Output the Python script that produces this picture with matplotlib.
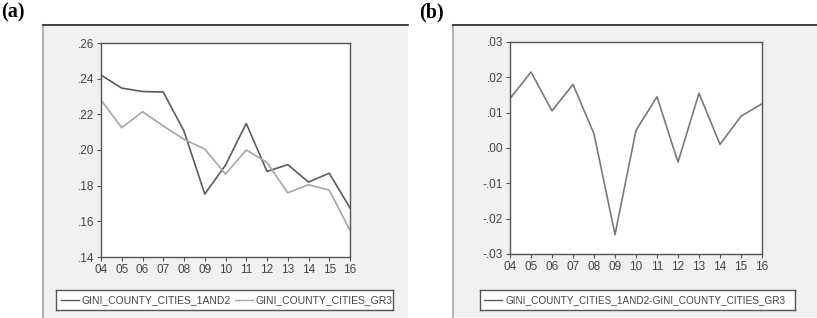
import matplotlib.pyplot as plt
from matplotlib.patches import Rectangle
from matplotlib.lines import Line2D

years = ["04", "05", "06", "07", "08", "09", "10", "11", "12", "13", "14", "15", "16"]
gini_1and2 = [0.242, 0.2347, 0.2328, 0.2325, 0.2106, 0.1753, 0.1915, 0.2149,
              0.1880, 0.1918, 0.1820, 0.1870, 0.1675]
gini_gr3 = [0.228, 0.2125, 0.2215, 0.2135, 0.2060, 0.2005, 0.1865, 0.2000,
            0.1930, 0.1760, 0.1805, 0.1775, 0.1550]
gini_diff = [0.014, 0.0215, 0.0105, 0.018, 0.004, -0.0245, 0.005, 0.0145,
             -0.004, 0.0155, 0.001, 0.009, 0.0125]

yticks_a = [0.14, 0.16, 0.18, 0.20, 0.22, 0.24, 0.26]
ylabels_a = [".14", ".16", ".18", ".20", ".22", ".24", ".26"]
yticks_b = [-0.03, -0.02, -0.01, 0.00, 0.01, 0.02, 0.03]
ylabels_b = ["-.03", "-.02", "-.01", ".00", ".01", ".02", ".03"]

label_a = "GINI_COUNTY_CITIES_1AND2"
label_b = "GINI_COUNTY_CITIES_GR3"
label_diff = "GINI_COUNTY_CITIES_1AND2-GINI_COUNTY_CITIES_GR3"

plt.rcParams["font.family"] = ["Liberation Sans", "DejaVu Sans"]

W, H = 817, 318
fig = plt.figure(figsize=(W / 100, H / 100), dpi=100)


def fx(px):
    return px / W


def fy(py):
    return 1 - py / H


def panel(x0, x1, y0, y1, tag, tag_x):
    # grey background box behind the axes
    fig.patches.append(Rectangle((fx(x0), fy(y1)), fx(x1 - x0), fy(y0) - fy(y1),
                                 transform=fig.transFigure, facecolor="#f1f1f1",
                                 edgecolor="none", zorder=-5))
    fig.lines.append(Line2D([fx(x0), fx(x0)], [fy(y0), fy(y1)],
                            transform=fig.transFigure, color="#b5b5b5", lw=1.5,
                            zorder=-4))
    fig.lines.append(Line2D([fx(x0), fx(x1)], [fy(y0), fy(y0)],
                            transform=fig.transFigure, color="#333333", lw=1.3,
                            zorder=-4))
    fig.text(fx(tag_x), fy(y0 - 3), tag, family=["Liberation Serif", "DejaVu Serif"],
             fontweight="bold", fontsize=14.5, ha="left", va="bottom")


def style_axes(ax, yticks, ylabels):
    x = list(range(len(years)))
    ax.set_xlim(0, len(years) - 1)
    ax.set_xticks(x)
    ax.set_xticklabels(years)
    ax.set_ylim(yticks[0], yticks[-1])
    ax.set_yticks(yticks)
    ax.set_yticklabels(ylabels)
    for s in ax.spines.values():
        s.set_color("#555555")
        s.set_linewidth(1.0)
    ax.tick_params(direction="out", length=3, width=0.8, colors="#555555",
                   labelcolor="#444444", labelsize=8.5, pad=2)


def legend_box(x0, x1, y0, y1, entries, size):
    ax = fig.add_axes([fx(x0), fy(y1), fx(x1 - x0), fy(y0) - fy(y1)])
    ax.set_xlim(x0, x1)
    ax.set_ylim(0, 1)
    ax.set_xticks([])
    ax.set_yticks([])
    ax.set_facecolor("white")
    for s in ax.spines.values():
        s.set_color("#555555")
        s.set_linewidth(1.0)
    for xs, color, text in entries:
        ax.plot([xs, xs + 18], [0.5, 0.5], color=color, lw=1.0)
        ax.text(xs + 21, 0.48, text, fontsize=size, color="#444444",
                ha="left", va="center")


panel(43, 408, 25, 318, "(a)", 1)
panel(453, 817, 25, 317, "(b)", 419)

x = list(range(len(years)))

ax1 = fig.add_axes([fx(101), fy(257), fx(249), fy(43) - fy(257)])
ax1.plot(x, gini_1and2, color="#5c5c5c", lw=1.2)
ax1.plot(x, gini_gr3, color="#a6a6a6", lw=1.2)
style_axes(ax1, yticks_a, ylabels_a)
legend_box(56, 393, 290, 310,
           [(61, "#5c5c5c", label_a), (235, "#a6a6a6", label_b)], 7.5)

ax2 = fig.add_axes([fx(510), fy(254), fx(252), fy(42) - fy(254)])
ax2.plot(x, gini_diff, color="#7a7a7a", lw=1.2)
style_axes(ax2, yticks_b, ylabels_b)
legend_box(480, 795, 290, 310, [(484, "#5c5c5c", label_diff)], 7.2)

fig.savefig("out.png", dpi=100)
